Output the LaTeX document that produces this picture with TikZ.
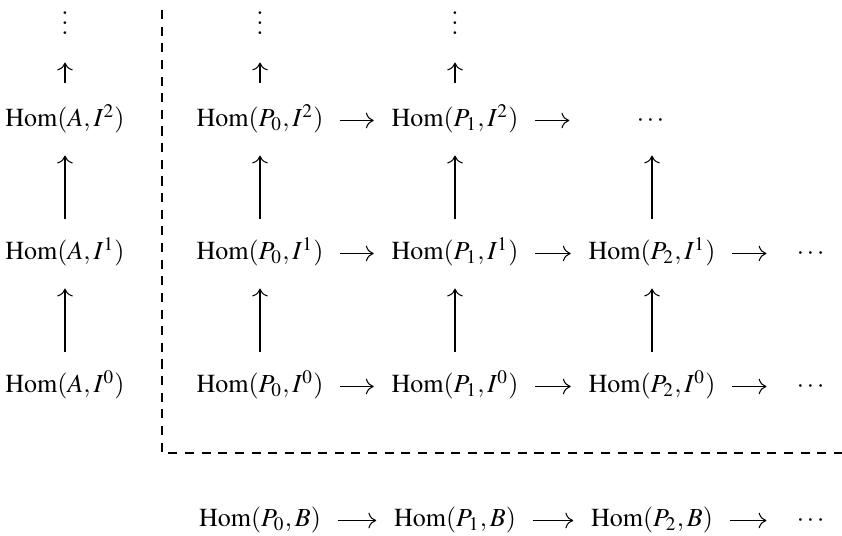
\documentclass[tikz,border=0pt]{standalone}
\usepackage{amsmath,amssymb}
\usepackage{mathptmx}
\usepackage{tikz}
\usetikzlibrary{arrows.meta,calc}

\newcommand{\colvdots}{\vbox{\baselineskip4pt\lineskiplimit0pt\hbox{.}\hbox{.}\hbox{.}}}

\begin{document}
\begin{tikzpicture}[x=0.3846pt,y=-0.3846pt,
  hom/.style={inner sep=0pt,anchor=base,text height=8pt,text depth=3pt},
  up/.style={-{To[length=3pt,width=6pt]},shorten <=7.4pt,shorten >=7.8pt},
  upshort/.style={-{To[length=3pt,width=6pt]},shorten <=8.9pt,shorten >=7.4pt},
  hto/.style={-{To[length=3pt,width=6pt]},shorten <=6.3pt,shorten >=6.7pt}]
\useasboundingbox (0,0) rectangle (842,536);

% left column
\node[hom] (ad) at (65,35) {\colvdots};
\node[hom] (a2) at (65,127) {$\mathrm{Hom}(A,I^2)$};
\node[hom] (a1) at (65,260) {$\mathrm{Hom}(A,I^1)$};
\node[hom] (a0) at (65,393) {$\mathrm{Hom}(A,I^0)$};

% double complex
\node[hom] (p0d) at (260,35) {\colvdots};
\node[hom] (p1d) at (455,35) {\colvdots};
\node[hom] (p0i2) at (260,127) {$\mathrm{Hom}(P_0,I^2)$};
\node[hom] (p1i2) at (455,127) {$\mathrm{Hom}(P_1,I^2)$};
\node[hom] (d2) at (652,127) {$\cdots$};
\node[hom] (p0i1) at (260,260) {$\mathrm{Hom}(P_0,I^1)$};
\node[hom] (p1i1) at (455,260) {$\mathrm{Hom}(P_1,I^1)$};
\node[hom] (p2i1) at (652,260) {$\mathrm{Hom}(P_2,I^1)$};
\node[hom] (e1) at (812,260) {$\cdots$};
\node[hom] (p0i0) at (260,393) {$\mathrm{Hom}(P_0,I^0)$};
\node[hom] (p1i0) at (455,393) {$\mathrm{Hom}(P_1,I^0)$};
\node[hom] (p2i0) at (652,393) {$\mathrm{Hom}(P_2,I^0)$};
\node[hom] (e0) at (812,393) {$\cdots$};

% bottom row
\node[hom] (b0) at (260,527) {$\mathrm{Hom}(P_0,B)$};
\node[hom] (b1) at (455,527) {$\mathrm{Hom}(P_1,B)$};
\node[hom] (b2) at (652,527) {$\mathrm{Hom}(P_2,B)$};
\node[hom] (eb) at (812,527) {$\cdots$};

\draw[upshort] (a2) -- (ad);
\draw[up] (a1) -- (a2);
\draw[up] (a0) -- (a1);

\draw[upshort] (p0i2) -- (p0d);
\draw[upshort] (p1i2) -- (p1d);
\draw[up] (p0i1) -- (p0i2);
\draw[up] (p1i1) -- (p1i2);
\draw[up] (p2i1) -- (d2);
\draw[up] (p0i0) -- (p0i1);
\draw[up] (p1i0) -- (p1i1);
\draw[up] (p2i0) -- (p2i1);

\draw[hto] (p0i2) -- (p1i2);
\draw[hto,shorten >=25.8pt] (p1i2) -- (d2);
\draw[hto] (p0i1) -- (p1i1);
\draw[hto] (p1i1) -- (p2i1);
\draw[hto,shorten >=11.5pt] (p2i1) -- (e1);
\draw[hto] (p0i0) -- (p1i0);
\draw[hto] (p1i0) -- (p2i0);
\draw[hto,shorten >=11.5pt] (p2i0) -- (e0);
\draw[hto] (b0) -- (b1);
\draw[hto] (b1) -- (b2);
\draw[hto,shorten >=11.5pt] (b2) -- (eb);

% the boxed region
\draw[dash pattern=on 3.5pt off 2.9pt] (162,10) |- (842,453);
\end{tikzpicture}
\end{document}
